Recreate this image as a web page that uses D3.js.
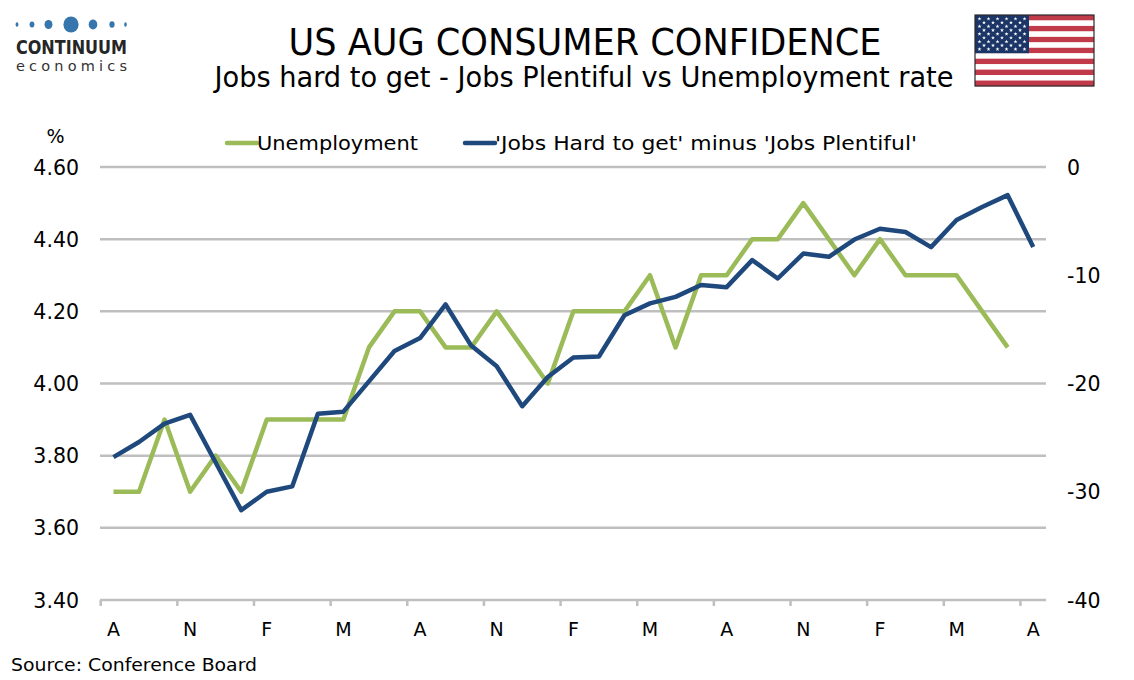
<!DOCTYPE html>
<html>
<head>
<meta charset="utf-8">
<script src="https://cdn.jsdelivr.net/npm/d3@7"></script>
<style>
  body { margin: 0; background: #fff; }
  svg { display: block; }
  text { font-family: "DejaVu Sans", Verdana, sans-serif; fill: #000; }
  .cond { font-family: "DejaVu Sans Condensed", "DejaVu Sans", sans-serif; font-stretch: condensed; }
</style>
</head>
<body>
<svg id="chart" width="1134" height="680"></svg>
<script>
// months Aug .. Aug, three years of data
const months = ["Aug","Sep","Oct","Nov","Dec","Jan","Feb","Mar","Apr","May","Jun","Jul",
                "Aug","Sep","Oct","Nov","Dec","Jan","Feb","Mar","Apr","May","Jun","Jul",
                "Aug","Sep","Oct","Nov","Dec","Jan","Feb","Mar","Apr","May","Jun","Jul","Aug"]

// unemployment rate, % (left axis) - no Aug print yet
const unemployment = [3.7,3.7,3.9,3.7,3.8,3.7,3.9,3.9,3.9,3.9,4.1,4.2,
                      4.2,4.1,4.1,4.2,4.1,4.0,4.2,4.2,4.2,4.3,4.1,4.3,
                      4.3,4.4,4.4,4.5,4.4,4.3,4.4,4.3,4.3,4.3,4.2,4.1,null]

// 'Jobs hard to get' minus 'Jobs plentiful' (right axis)
const labourDiff = [-26.8,-25.4,-23.7,-22.9,-27.3,-31.7,-30.0,-29.5,-22.8,-22.6,-19.8,-17.0,
                    -15.8,-12.7,-16.5,-18.4,-22.1,-19.4,-17.6,-17.5,-13.7,-12.6,-12.0,-10.9,
                    -11.1,-8.6,-10.3,-8.0,-8.3,-6.7,-5.7,-6.0,-7.4,-4.9,-3.7,-2.6,-7.4]

const leftTicks = [3.4,3.6,3.8,4.0,4.2,4.4,4.6]
const rightTicks = [-40,-30,-20,-10,0]

const green = "#9bbb59", blue = "#1f497d", grid = "#bfbfbf"

const svg = d3.select("#chart")

// ---- header ----
svg.append("text").attr("class","cond")
  .attr("x", 585).attr("y", 55).attr("text-anchor","middle")
  .attr("font-size", 38).attr("textLength", 593).attr("lengthAdjust","spacingAndGlyphs")
  .text("US AUG CONSUMER CONFIDENCE")
svg.append("text").attr("class","cond")
  .attr("x", 584).attr("y", 87).attr("text-anchor","middle")
  .attr("font-size", 28).attr("textLength", 739).attr("lengthAdjust","spacingAndGlyphs")
  .text("Jobs hard to get - Jobs Plentiful vs Unemployment rate")

// logo
const logo = svg.append("g")
const dots = [[17,1.4,2.2],[32,2.4,3],[48.5,4,4.6],[71,7.6,8],[93,4.3,4.9],[112,2.6,3.2],[125.5,1.3,2.2]]
logo.selectAll("ellipse").data(dots).join("ellipse")
  .attr("cx", d => d[0]).attr("cy", 24.5)
  .attr("rx", d => d[1]).attr("ry", d => d[2])
  .attr("fill", "#3776ad")
logo.append("text").attr("class","cond")
  .attr("x", 16).attr("y", 54).attr("font-size", 19.5).attr("font-weight","bold")
  .attr("textLength", 111).attr("lengthAdjust","spacingAndGlyphs")
  .style("fill","#262626").text("CONTINUUM")
logo.append("text")
  .attr("x", 16).attr("y", 70.5).attr("font-size", 14.5)
  .attr("textLength", 111).attr("lengthAdjust","spacing")
  .style("fill","#333").text("economics")

// flag
const flag = svg.append("g").attr("transform","translate(975,15)")
const fw = 119, fh = 71
flag.selectAll("rect.stripe").data(d3.range(13)).join("rect")
  .attr("class","stripe")
  .attr("x", 0).attr("y", i => i*fh/13).attr("width", fw).attr("height", fh/13 + 0.2)
  .attr("fill", i => i % 2 ? "#ffffff" : "#c03a4a")
flag.append("rect").attr("width", 54).attr("height", fh*7/13).attr("fill", "#1b3566")
const starPts = []
d3.range(9).forEach(r => {
  const n = r % 2 ? 5 : 6
  d3.range(n).forEach(c => starPts.push([(r % 2 ? 9 : 4.5) + c*9, 3.8 + r*3.8]))
})
flag.selectAll("path.star").data(starPts).join("path")
  .attr("class","star")
  .attr("transform", d => `translate(${d[0]},${d[1]})`)
  .attr("d", d3.symbol(d3.symbolStar, 5))
  .attr("fill", "#fff")
flag.append("rect").attr("width", fw).attr("height", fh)
  .attr("fill","none").attr("stroke","#2a2a2a").attr("stroke-width",1.2)

// ---- scales ----
const x = d3.scaleBand().domain(d3.range(months.length)).range([100.7, 1046]).padding(0)
const cx = i => x(i) + x.bandwidth()/2
const yL = d3.scaleLinear().domain([3.4, 4.6]).range([600, 167])
const yR = d3.scaleLinear().domain([-40, 0]).range([600, 167])

// grid lines
svg.append("g").selectAll("line").data(leftTicks).join("line")
  .attr("x1", 100).attr("x2", 1046)
  .attr("y1", d => yL(d)).attr("y2", d => yL(d))
  .attr("stroke", grid).attr("stroke-width", 2.5)

// x ticks every quarter
const tickIdx = d3.range(0, months.length, 3)
svg.append("g").selectAll("line").data(tickIdx).join("line")
  .attr("x1", i => x(i)).attr("x2", i => x(i))
  .attr("y1", 600).attr("y2", 606)
  .attr("stroke", grid).attr("stroke-width", 2.5)

svg.append("g").selectAll("text").data(tickIdx).join("text")
  .attr("x", i => cx(i)).attr("y", 635.5).attr("text-anchor","middle")
  .attr("font-size", 19)
  .text(i => months[i][0])

// left axis labels
svg.append("g").selectAll("text").data(leftTicks).join("text")
  .attr("x", 79).attr("y", d => yL(d) + 7.5).attr("text-anchor","end")
  .attr("font-size", 20.5)
  .text(d => d3.format(".2f")(d))
svg.append("text").attr("x", 55.5).attr("y", 143).attr("text-anchor","middle")
  .attr("font-size", 19).text("%")

// right axis labels
svg.append("g").selectAll("text").data(rightTicks).join("text")
  .attr("x", 1067).attr("y", d => yR(d) + 7.5)
  .attr("font-size", 20.5)
  .text(d => d)

// ---- lines ----
const lineL = d3.line().defined(d => d != null).x((d, i) => cx(i)).y(d => yL(d))
const lineR = d3.line().x((d, i) => cx(i)).y(d => yR(d))

svg.append("path").datum(unemployment)
  .attr("d", lineL).attr("fill","none")
  .attr("stroke", green).attr("stroke-width", 4.5).attr("stroke-linejoin","round")
svg.append("path").datum(labourDiff)
  .attr("d", lineR).attr("fill","none")
  .attr("stroke", blue).attr("stroke-width", 4.5).attr("stroke-linejoin","round")

// ---- legend ----
const legend = [
  {name: "Unemployment", color: green, x: 227, w: 161},
  {name: "'Jobs Hard to get' minus 'Jobs Plentiful'", color: blue, x: 465, w: 422}
]
const lg = svg.append("g").selectAll("g").data(legend).join("g")
  .attr("transform", d => `translate(${d.x},143)`)
lg.append("line").attr("x1", 0).attr("x2", 30)
  .attr("stroke", d => d.color).attr("stroke-width", 4.5).attr("stroke-linecap","round")
lg.append("text").attr("class","cond")
  .attr("x", 30).attr("y", 7).attr("font-size", 20)
  .attr("textLength", d => d.w).attr("lengthAdjust","spacingAndGlyphs")
  .text(d => d.name)

// source
svg.append("text").attr("x", 11).attr("y", 671).attr("font-size", 18.5)
  .attr("textLength", 246).attr("lengthAdjust","spacingAndGlyphs")
  .text("Source: Conference Board")
</script>
</body>
</html>
